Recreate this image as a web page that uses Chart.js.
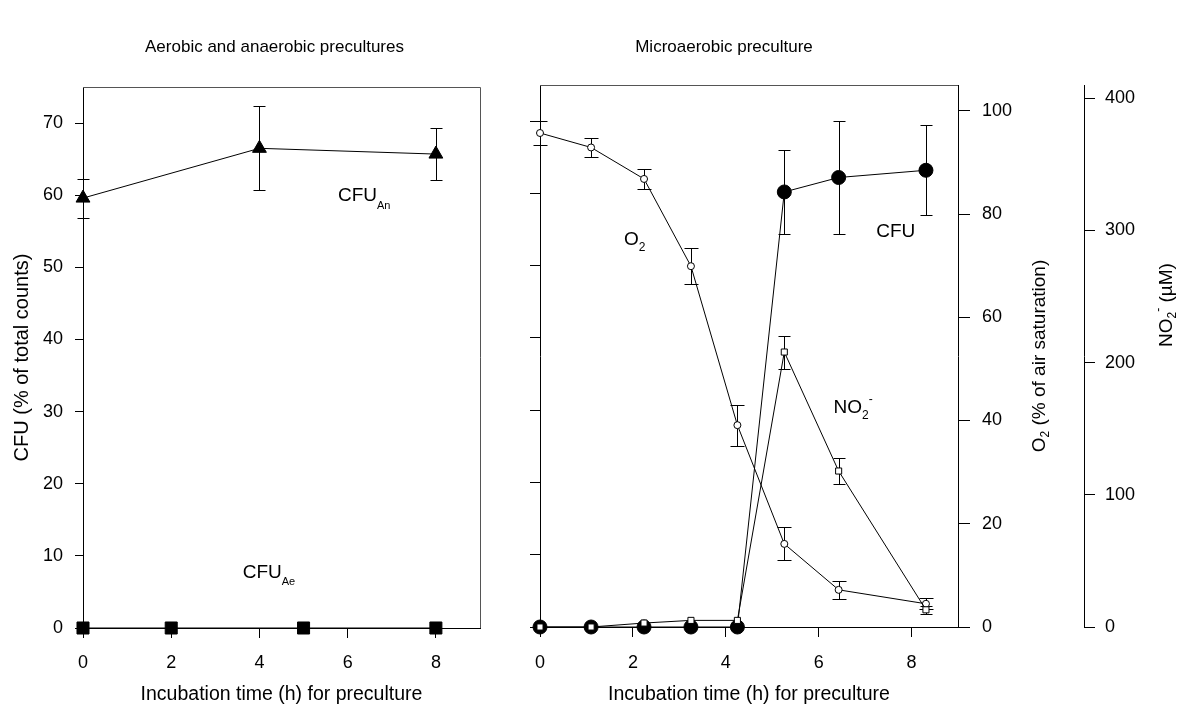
<!DOCTYPE html>
<html>
<head>
<meta charset="utf-8">
<script src="https://cdn.jsdelivr.net/npm/chart.js@4.4.0/dist/chart.umd.min.js"></script>
<style>
  html, body { margin: 0; padding: 0; background: #fff; }
  #wrap { position: relative; width: 1177px; height: 709px; overflow: hidden; background: #fff; }
  canvas { position: absolute; top: 0; }
  #leftChart { left: 0; }
  #rightChart { left: 520px; }
</style>
</head>
<body>
<div id="wrap">
  <canvas id="leftChart" width="520" height="709"></canvas>
  <canvas id="rightChart" width="657" height="709"></canvas>
</div>
<script>
// left panel: aerobic / anaerobic precultures
const aeTime = [0, 2, 5, 8];
const aeCfu = [0, 0, 0, 0];
const anTime = [0, 4, 8];
const anCfu = [59.6, 66.5, 65.7];
const anErr = [2.7, 5.8, 3.6];

// right panel: microaerobic preculture
const microTime = [0, 1.1, 2.24, 3.25, 4.25, 5.26, 6.43, 8.31];
const o2Sat = [95.7, 92.9, 86.8, 69.9, 39.1, 16.1, 7.2, 4.5];
const o2Err = [2.4, 1.8, 2.0, 3.5, 4.0, 3.2, 1.7, 1.1];
const cfuMicro = [0, 0, 0, 0, 0, 60.2, 62.2, 63.2];
const cfuErr = [0, 0, 0, 0, 0, 5.8, 7.8, 6.2];
const no2Conc = [0, 0, 3, 5, 5, 208, 118, 13];
const no2Err = [0, 0, 0, 0, 0, 12.5, 10, 3];

// tick labels
const timeTicks = [0, 2, 4, 6, 8];
const cfuTicks = [0, 10, 20, 30, 40, 50, 60, 70];
const o2Ticks = [0, 20, 40, 60, 80, 100];
const no2Ticks = [0, 100, 200, 300, 400];

const FONT = '"Liberation Sans", Arial, Helvetica, sans-serif';

function pts(xs, ys) {
    return xs.map((x, i) => ({ x: x, y: ys[i] }));
}

function setTicks(values) {
    return function (scale) {
        scale.ticks = values.map(v => ({ value: v }));
    };
}

// draw text made of pieces: [text, size, dy]
function drawRich(ctx, parts, x, y, align) {
    let total = 0;
    parts.forEach(p => {
        ctx.font = p[1] + 'px ' + FONT;
        total += ctx.measureText(p[0]).width;
    });
    let cx = align === 'center' ? x - total / 2 : x;
    ctx.fillStyle = '#000';
    ctx.textAlign = 'left';
    ctx.textBaseline = 'middle';
    parts.forEach(p => {
        ctx.font = p[1] + 'px ' + FONT;
        ctx.fillText(p[0], cx, y + (p[2] || 0));
        cx += ctx.measureText(p[0]).width;
    });
}

const errorBars = {
    id: 'errorBars',
    beforeDatasetsDraw(chart) {
        const ctx = chart.ctx;
        ctx.save();
        ctx.strokeStyle = '#000';
        ctx.lineWidth = 1;
        chart.data.datasets.forEach((ds, i) => {
            if (!ds.errors) return;
            const meta = chart.getDatasetMeta(i);
            const xs = chart.scales[meta.xAxisID];
            const ys = chart.scales[meta.yAxisID];
            const cap = ds.capHalf || 6;
            ds.data.forEach((p, j) => {
                const e = ds.errors[j];
                if (!e) return;
                const px = Math.round(xs.getPixelForValue(p.x)) + 0.5;
                const top = Math.round(ys.getPixelForValue(p.y + e)) + 0.5;
                const bot = Math.round(ys.getPixelForValue(p.y - e)) + 0.5;
                ctx.beginPath();
                ctx.moveTo(px, top);
                ctx.lineTo(px, bot);
                ctx.moveTo(px - cap, top);
                ctx.lineTo(px + cap, top);
                ctx.moveTo(px - cap, bot);
                ctx.lineTo(px + cap, bot);
                ctx.stroke();
            });
        });
        ctx.restore();
    }
};

function xAxis(height, padding) {
    return {
        type: 'linear',
        position: 'bottom',
        min: 0,
        max: 9,
        afterBuildTicks: setTicks(timeTicks),
        afterFit: s => { s.height = height; },
        grid: { drawOnChartArea: false, tickLength: 10, color: '#000' },
        border: { color: '#000' },
        ticks: { color: '#000', font: { family: FONT, size: 18 }, padding: padding, autoSkip: false, maxRotation: 0 },
        title: {
            display: true,
            text: 'Incubation time (h) for preculture',
            color: '#000',
            font: { family: FONT, size: 19.5 },
            padding: { top: 0, bottom: 3 }
        }
    };
}

const pointDefaults = {
    showLine: true,
    borderColor: '#000',
    borderWidth: 1,
    pointBorderColor: '#000',
    pointBorderWidth: 1,
    tension: 0,
    clip: false
};

new Chart(document.getElementById('leftChart'), {
    type: 'line',
    data: {
        datasets: [
            Object.assign({}, pointDefaults, {
                label: 'CFU Ae',
                data: pts(aeTime, aeCfu),
                pointStyle: 'rect',
                pointRadius: 8.5,
                pointBackgroundColor: '#000'
            }),
            Object.assign({}, pointDefaults, {
                label: 'CFU An',
                data: pts(anTime, anCfu),
                errors: anErr,
                capHalf: 6,
                pointStyle: 'triangle',
                pointRadius: 8,
                pointBackgroundColor: '#000'
            })
        ]
    },
    options: {
        responsive: false,
        animation: false,
        layout: { padding: { top: 87, right: 40, left: 0, bottom: 0 } },
        plugins: { legend: { display: false }, tooltip: { enabled: false } },
        scales: {
            x: xAxis(81, 14),
            y: {
                min: 0,
                max: 75,
                afterBuildTicks: setTicks(cfuTicks),
                afterFit: s => { s.width = 83; },
                grid: { drawOnChartArea: false, tickLength: 8, color: '#000' },
                border: { color: '#000' },
                ticks: { color: '#000', font: { family: FONT, size: 18 }, padding: 12 },
                title: {
                    display: true,
                    text: 'CFU (% of total counts)',
                    color: '#000',
                    font: { family: FONT, size: 20 },
                    padding: { top: 10, bottom: 0 }
                }
            }
        }
    },
    plugins: [errorBars, {
        id: 'leftText',
        beforeDatasetsDraw(chart) {
            const a = chart.chartArea, ctx = chart.ctx;
            ctx.save();
            ctx.strokeStyle = '#555';
            ctx.lineWidth = 1;
            ctx.beginPath();
            ctx.moveTo(Math.round(a.left), Math.round(a.top) + 0.5);
            ctx.lineTo(Math.round(a.right) + 0.5, Math.round(a.top) + 0.5);
            ctx.lineTo(Math.round(a.right) + 0.5, Math.round(a.bottom));
            ctx.stroke();
            ctx.restore();
        },
        afterDraw(chart) {
            const a = chart.chartArea, ctx = chart.ctx;
            const xs = chart.scales.x, ys = chart.scales.y;
            ctx.save();
            drawRich(ctx, [['Aerobic and anaerobic precultures', 17]], (a.left + a.right) / 2 - 7, 47, 'center');
            drawRich(ctx, [['CFU', 19], ['An', 11, 10]], xs.getPixelForValue(5.78), ys.getPixelForValue(59.9), 'left');
            drawRich(ctx, [['CFU', 19], ['Ae', 11, 9]], xs.getPixelForValue(3.62), ys.getPixelForValue(7.6), 'left');
            ctx.restore();
        }
    }]
});

new Chart(document.getElementById('rightChart'), {
    type: 'line',
    data: {
        datasets: [
            Object.assign({}, pointDefaults, {
                label: 'NO2',
                yAxisID: 'yNO2',
                data: pts(microTime, no2Conc),
                errors: no2Err,
                capHalf: 6,
                pointStyle: 'rect',
                pointRadius: 4.3,
                pointBackgroundColor: '#fff'
            }),
            Object.assign({}, pointDefaults, {
                label: 'O2',
                yAxisID: 'yO2',
                data: pts(microTime, o2Sat),
                errors: o2Err,
                capHalf: 7,
                pointStyle: 'circle',
                pointRadius: 3.5,
                pointBackgroundColor: '#fff'
            }),
            Object.assign({}, pointDefaults, {
                label: 'CFU',
                yAxisID: 'y',
                data: pts(microTime, cfuMicro),
                errors: cfuErr,
                capHalf: 6,
                pointStyle: 'circle',
                pointRadius: 7,
                pointBackgroundColor: '#000'
            })
        ]
    },
    options: {
        responsive: false,
        animation: false,
        layout: { padding: { top: 85, right: 0, left: 0, bottom: 0 } },
        plugins: { legend: { display: false }, tooltip: { enabled: false } },
        scales: {
            x: xAxis(82, 15),
            y: {
                position: 'left',
                min: 0,
                max: 75,
                afterBuildTicks: setTicks(cfuTicks),
                afterFit: s => { s.width = 16; },
                grid: { drawOnChartArea: false, tickLength: 10, color: '#000' },
                border: { color: '#000' },
                ticks: { display: false }
            },
            yO2: {
                position: 'right',
                weight: 0,
                min: 0,
                max: 105,
                afterBuildTicks: setTicks(o2Ticks),
                afterFit: s => { s.width = 126; },
                grid: { drawOnChartArea: false, tickLength: 12, color: '#000' },
                border: { color: '#000' },
                ticks: { color: '#000', font: { family: FONT, size: 18 }, padding: 12 }
            },
            yNO2: {
                position: 'right',
                weight: 1,
                min: 0,
                max: 410,
                afterBuildTicks: setTicks(no2Ticks),
                afterFit: s => { s.width = 93; },
                grid: { drawOnChartArea: false, tickLength: 11, color: '#000' },
                border: { color: '#000' },
                ticks: { color: '#000', font: { family: FONT, size: 18 }, padding: 10 }
            }
        }
    },
    plugins: [errorBars, {
        id: 'rightText',
        beforeDatasetsDraw(chart) {
            const a = chart.chartArea, ctx = chart.ctx;
            ctx.save();
            ctx.strokeStyle = '#555';
            ctx.lineWidth = 1;
            ctx.beginPath();
            ctx.moveTo(Math.round(a.left), Math.round(a.top) + 0.5);
            ctx.lineTo(Math.round(a.right), Math.round(a.top) + 0.5);
            ctx.stroke();
            ctx.restore();
        },
        afterDraw(chart) {
            const a = chart.chartArea, ctx = chart.ctx;
            const xs = chart.scales.x, yc = chart.scales.y;
            const yo = chart.scales.yO2, yn = chart.scales.yNO2;
            const midY = (a.top + a.bottom) / 2;
            ctx.save();
            drawRich(ctx, [['Microaerobic preculture', 17]], (a.left + a.right) / 2 - 25, 47, 'center');
            drawRich(ctx, [['O', 19], ['2', 12, 8]], xs.getPixelForValue(1.81), yo.getPixelForValue(75), 'left');
            drawRich(ctx, [['CFU', 19]], xs.getPixelForValue(7.24), yc.getPixelForValue(54.7), 'left');
            drawRich(ctx, [['NO', 19], ['2', 12, 8], ['-', 12, -8]], xs.getPixelForValue(6.32), yn.getPixelForValue(166), 'left');

            ctx.save();
            ctx.translate(yo.left + 82, midY);
            ctx.rotate(-Math.PI / 2);
            drawRich(ctx, [['O', 19], ['2', 12, 6], [' (% of air saturation)', 19]], 0, 0, 'center');
            ctx.restore();

            ctx.save();
            ctx.translate(yn.left + 83, midY - 51);
            ctx.rotate(-Math.PI / 2);
            drawRich(ctx, [['NO', 19], ['2', 12, 6], ['-', 12, -8], [' (\u00b5M)', 19]], 0, 0, 'center');
            ctx.restore();
            ctx.restore();
        }
    }]
});
</script>
</body>
</html>
